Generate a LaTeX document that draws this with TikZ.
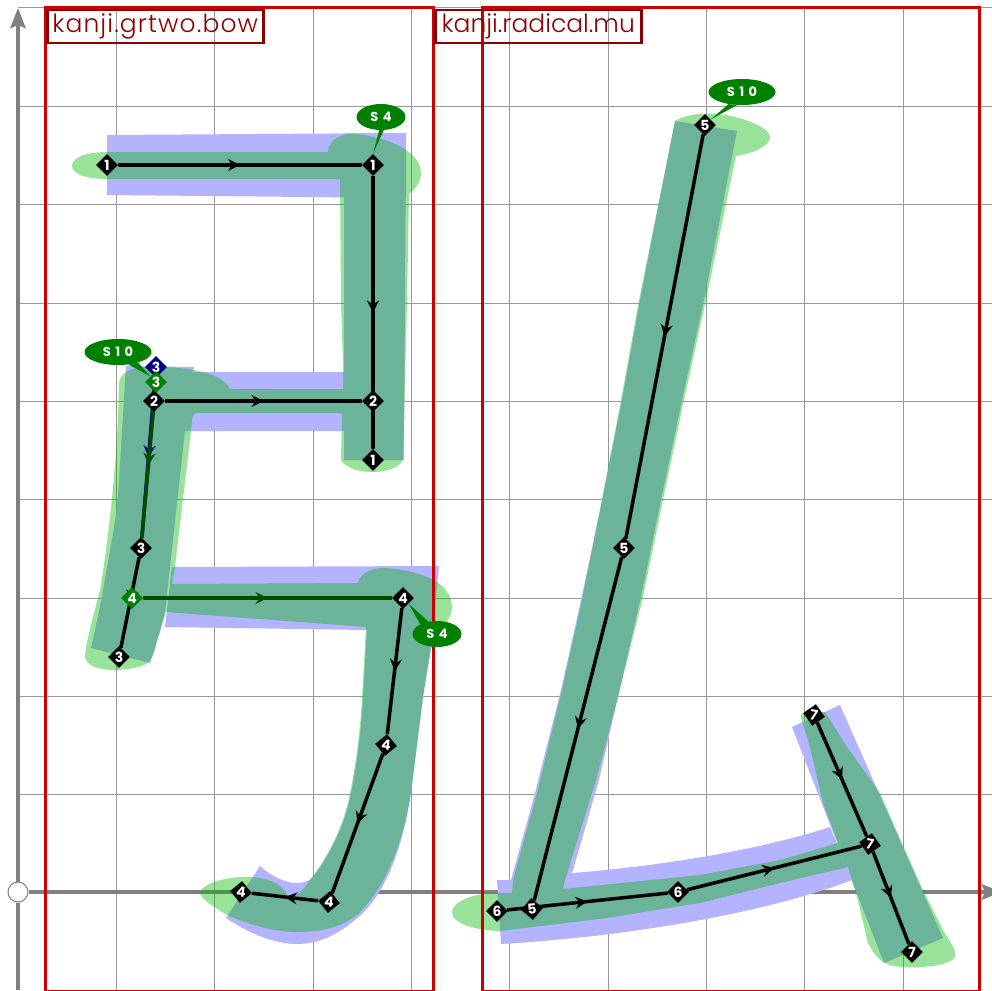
\documentclass[tikz,border=0pt]{standalone}
\usepackage{fontspec}
\setmainfont{Poppins}
\newfontfamily\tagfont{Poppins Light}
\newfontfamily\wideTagfont[LetterSpace=4.5]{Poppins Light}
\usetikzlibrary{arrows.meta, shapes.geometric, decorations.markings}

\pgfdeclarelayer{points}
\pgfsetlayers{main,points}

\definecolor{gridgrey}{HTML}{999999}
\definecolor{axisgrey}{HTML}{808080}
\definecolor{blueink}{HTML}{B3B3FF}
\definecolor{greenink}{RGB}{0,182,0}
\definecolor{boxred}{HTML}{CC0000}
\definecolor{tagred}{HTML}{8B0000}
\definecolor{darkgreen}{HTML}{004D00}
\definecolor{darknavy}{HTML}{000080}
\definecolor{calloutgreen}{HTML}{008000}

\begin{document}
\begin{tikzpicture}[
    x=1pt, y=-1pt,
    % Node styles
    pt/.style={
        diamond, draw=none, fill=#1, inner sep=0pt,
        minimum width=22pt, minimum height=22pt,
        font=\bfseries\fontsize{14}{14}\selectfont, text=white,
    },
    pt/.default=black,
    callout/.style={
        ellipse, fill=calloutgreen, inner sep=0pt,
        minimum height=26pt,
        font=\bfseries\fontsize{13}{13}\selectfont, text=white,
    },
    tag/.style={
        rectangle, draw=tagred, line width=2.5pt, anchor=north west,
        minimum height=33pt, inner sep=0pt, text=tagred,
        font=\fontsize{25}{25}\selectfont,
    },
    origin/.style={
        circle, draw=axisgrey, fill=white, line width=1pt,
        minimum size=20pt, inner sep=0pt,
    },
    % Line styles
    gridline/.style={draw=gridgrey, line width=1pt},
    axis/.style={draw=axisgrey, line width=4.5pt},
    axishead/.style={-{Stealth[length=20pt, width=15pt, inset=3pt]}},
    redbox/.style={draw=boxred, line width=3pt},
    bluestroke/.style={fill=blueink},
    greenstroke/.style={fill=greenink, fill opacity=0.4},
    pen/.style={
        draw=#1, line width=3.5pt,
        postaction={decorate, decoration={markings,
            mark=at position 0.5 with {\arrow[#1]{Stealth[length=12pt, width=12pt, inset=4pt]}}}},
    },
    pen/.default=black,
]
\useasboundingbox (0,0) rectangle (992,990);

% === Grid ===
\foreach \gx in {116,214,313,411,509,608,706,804,903}
    \draw[gridline] (\gx,8) -- (\gx,990);
\foreach \gy in {8,106,204,303,401,499,598,696,794}
    \draw[gridline] (18,\gy) -- (992,\gy);

% === Axes ===
\node[origin] (org) at (18,892) {};
\coordinate (ytop) at (18,8);
\coordinate (ybot) at (18,990);
\coordinate (xend) at (1002,892);
\draw[axis, axishead] (org) -- (ytop);
\draw[axis, axishead] (org) -- (xend);
\draw[axis] (org) -- (ybot);

% === Blue outlines ===
\fill[bluestroke] (107,135) -- (406,133) -- (406,198) -- (107,195) -- cycle;
\fill[bluestroke] (344,133) -- (406,133) -- (404,460) -- (344,460) -- cycle;
\fill[bluestroke] (190,372) -- (345,372) -- (345,431) -- (185,431) -- cycle;
\fill[bluestroke] (126,366) -- (194,367) -- (185,431) -- (170,567) -- (165,612) -- (160,632) -- (150,663)
    -- (91,648) .. controls (96,625) and (100,608) .. (103,590)
    .. controls (110,550) and (116,520) .. (118,497) -- cycle;
\fill[bluestroke] (172,567) -- (439,566) -- (431,650) -- (423,697) -- (411,793)
    .. controls (404,840) and (390,885) .. (363,913)
    .. controls (340,934) and (320,944) .. (297,944)
    .. controls (275,944) and (250,934) .. (226,918)
    -- (260,866) .. controls (275,880) and (300,890) .. (313,877)
    .. controls (330,855) and (345,825) .. (351,793)
    .. controls (358,760) and (362,720) .. (363,697) -- (367,630)
    -- (165,627) -- cycle;
\fill[bluestroke] (675,121) -- (737,131) -- (704,300) -- (682,400) -- (661,500) -- (641,597)
    -- (618,697) -- (599,780) -- (573,870) -- (563,889) -- (511,890) -- (511,880)
    -- (535,793) -- (561,690) -- (581,600) -- (600,510) -- (622,400) -- (640,300) -- cycle;
\fill[bluestroke] (497,880) -- (515,880) -- (573,873)
    .. controls (660,866) and (760,850) .. (830,827)
    -- (852,880) .. controls (760,915) and (620,937) .. (501,944) -- cycle;
\fill[bluestroke] (792,727) -- (840,705) -- (943,938) -- (884,963) -- cycle;

% === Green outlines ===
\fill[greenstroke] (107,152) -- (328,152)
    .. controls (328,138) and (345,133) .. (355,134)
    .. controls (385,137) and (421,150) .. (421,173)
    .. controls (421,184) and (413,191) .. (409,194)
    -- (407,303) -- (403,460)
    .. controls (395,476) and (350,476) .. (341,460)
    -- (342,413) -- (197,413) .. controls (193,414) and (193,416) .. (192,420)
    -- (191,431) -- (175,567) -- (172,584) -- (358,583)
    .. controls (360,572) and (375,567) .. (385,568)
    .. controls (415,570) and (452,580) .. (452,607)
    .. controls (452,620) and (440,628) .. (436,635)
    -- (430,650) -- (423,697) -- (411,793)
    .. controls (403,840) and (388,885) .. (357,915)
    .. controls (340,928) and (320,932) .. (297,932)
    .. controls (275,932) and (250,925) .. (227,915)
    .. controls (212,906) and (200,898) .. (200,892)
    .. controls (205,882) and (230,876) .. (250,877)
    .. controls (270,878) and (282,884) .. (288,896)
    .. controls (296,900) and (305,888) .. (312,877)
    .. controls (329,855) and (344,825) .. (350,793)
    .. controls (357,760) and (361,720) .. (362,697) -- (366,627)
    -- (166,612) -- (157,640)
    .. controls (155,655) and (150,662) .. (146,664)
    .. controls (130,672) and (88,674) .. (85,657)
    .. controls (85,645) and (95,610) .. (100,590)
    .. controls (110,530) and (118,450) .. (119,383)
    .. controls (120,373) and (130,368) .. (145,367)
    .. controls (190,366) and (222,373) .. (230,389)
    -- (343,389) -- (343,362) -- (341,303) -- (340,179) -- (107,179)
    .. controls (90,179) and (72,175) .. (72,166)
    .. controls (72,156) and (90,152) .. (107,152) -- cycle;
\fill[greenstroke] (675,121) .. controls (690,112) and (715,112) .. (735,117)
    .. controls (755,122) and (770,130) .. (770,137)
    .. controls (770,147) and (750,154) .. (736,156)
    -- (706,300) -- (684,400) -- (663,500) -- (643,597) -- (618,697) -- (596,780) -- (565,880)
    -- (563,889) -- (700,875) -- (780,860) -- (838,843)
    -- (823,803) -- (810,747) -- (801,718) .. controls (800,714) and (803,712) .. (806,712)
    -- (825,712) -- (847,747) -- (880,793) -- (902,843) -- (923,890) -- (943,930)
    .. controls (950,942) and (957,950) .. (955,957)
    .. controls (950,968) and (900,970) .. (887,964)
    .. controls (877,960) and (872,950) .. (868,943)
    -- (857,897) -- (848,867) -- (780,883) -- (700,903) -- (607,918) -- (500,931)
    .. controls (470,930) and (452,922) .. (452,912)
    .. controls (452,903) and (470,893) .. (498,893)
    -- (512,893) -- (513,880) -- (537,793) -- (562,690) -- (582,600)
    -- (600,510) -- (621,400) -- (639,300) -- cycle;

% === Red boxes ===
\draw[redbox] (45,8) rectangle (433,991);
\draw[redbox] (482,8) rectangle (979,991);
\node[tag, minimum width=216pt] (grtwo) at (46,9) {\wideTagfont kanji.grtwo.bow};
\node[tag, minimum width=206pt] (radical) at (434,9) {\tagfont kanji.radical.mu};

% === Points ===
\begin{pgfonlayer}{points}
\node[pt] (a1) at (107,165) {1};
\node[pt] (a2) at (373,165) {1};
\node[pt] (a3) at (373,460) {1};
\node[pt] (b1) at (154,401) {2};
\node[pt] (b2) at (373,401) {2};
\node[pt=darknavy] (c0) at (156,367) {3};
\node[pt=calloutgreen] (c1) at (156,382) {3};
\node[pt] (c2) at (141,548) {3};
\node[pt] (c3) at (119,657) {3};
\node[pt=calloutgreen] (d1) at (132,598) {4};
\node[pt] (d2) at (403,598) {4};
\node[pt, rotate=-6] (d3) at (386,745) {4};
\node[pt, rotate=-6] (d4) at (329,902) {4};
\node[pt, rotate=-6] (d5) at (241,892) {4};
\node[pt] (e1) at (705,125) {5};
\node[pt] (e2) at (624,548) {5};
\node[pt, rotate=5] (e3) at (532,909) {5};
\node[pt] (f1) at (497,911) {6};
\node[pt] (f2) at (678,892) {6};
\node[pt, rotate=-10] (g1) at (814,715) {7};
\node[pt, rotate=-10] (g2) at (870,844) {7};
\node[pt] (g3) at (912,952) {7};

% === Callouts ===
\node[callout, minimum width=49pt] (s4a) at (381,117) {S\,\,4};
\node[callout, minimum width=67pt] (s10a) at (118,352) {S\,\,1\,\,0};
\node[callout, minimum width=49pt] (s4b) at (437,634) {S\,\,4};
\node[callout, minimum width=67pt] (s10b) at (742,92) {S\,\,1\,\,0};
\fill[calloutgreen] (s4a.262) -- (a2.90) -- (s4a.282) -- cycle;
\fill[calloutgreen] (s10a.310) -- (c1.135) -- (s10a.332) -- cycle;
\fill[calloutgreen] (s4b.125) -- (d2.-45) -- (s4b.150) -- cycle;
\fill[calloutgreen] (s10b.222) -- (e1.45) -- (s10b.250) -- cycle;
\end{pgfonlayer}

% === Strokes ===
\draw[pen] (a1) -- (a2);
\draw[pen] (a2) -- (a3);
\draw[pen] (b1) -- (b2);
\draw[pen=darknavy] (c0) -- (c2);
\draw[pen=darkgreen] (c1) -- (c2);
\draw[pen] (c2) -- (c3);
\draw[pen=darkgreen] (d1) -- (d2);
\draw[pen] (d2) -- (d3);
\draw[pen] (d3) -- (d4);
\draw[pen] (d4) -- (d5);
\draw[pen] (e1) -- (e2);
\draw[pen] (e2) -- (e3);
\draw[pen] (f1) -- (f2);
\draw[pen] (f2) -- (g2);
\draw[pen] (g1) -- (g2);
\draw[pen] (g2) -- (g3);
\end{tikzpicture}
\end{document}
